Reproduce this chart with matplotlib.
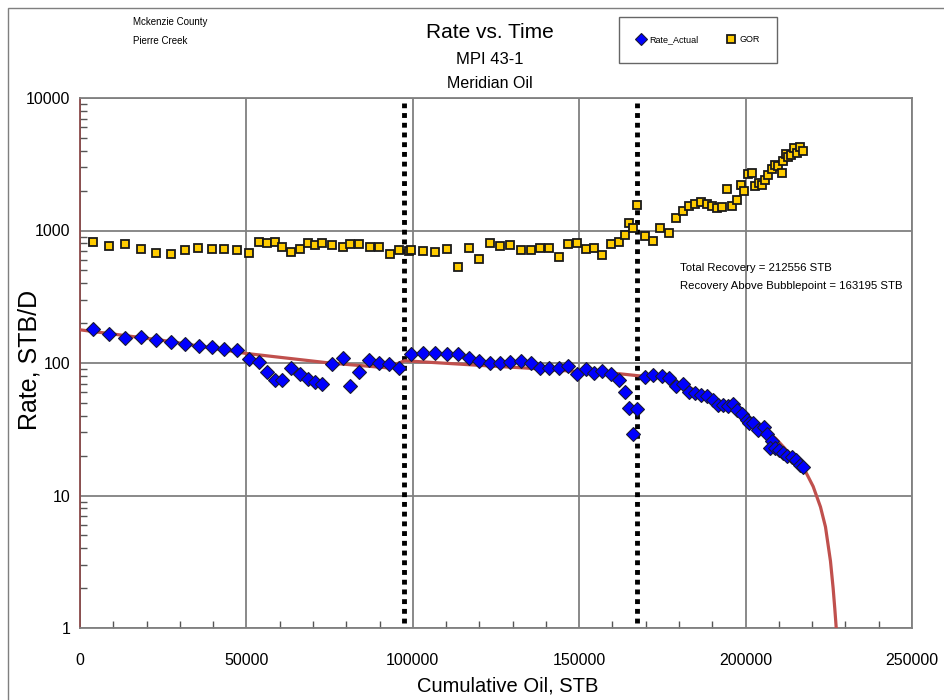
import matplotlib
matplotlib.use("Agg")
import matplotlib.pyplot as plt
from matplotlib.ticker import MultipleLocator, LogLocator, NullFormatter
from matplotlib.patches import Rectangle

plt.rcParams['font.family'] = ['Liberation Sans', 'DejaVu Sans']

# cumulative oil (STB) and oil rate (STB/D)
rate_cum = [3800, 8800, 13500, 18300, 22900, 27300, 31600, 35700, 39700, 43400,
            47300, 50800, 53700, 56300, 58600, 60700, 63500, 66000, 68500, 70700,
            72800, 75700, 79100, 81100, 83700, 86900, 89900, 92900, 95900, 99500,
            103000, 106600, 110200, 113600, 116900, 120000, 123100, 126100, 129300, 132500,
            135600, 138300, 141000, 143800, 146700, 149300, 152000, 154500, 157000, 159600,
            161900, 163900, 165000, 166100, 167500, 169900, 172300, 174900, 177100, 179000,
            181100, 183000, 184800, 186500, 188500, 190100, 191600, 193300, 194800, 196100,
            197500, 198900, 200300, 201100, 202300, 203700, 205500, 206500, 207800, 207300,
            208800, 210100, 211300, 212500, 213800, 215100, 216300, 217300]
rate_actual = [180, 165, 155, 156, 150, 145, 139, 134, 131, 128,
               125, 108, 102, 85, 74, 74, 91, 83, 76, 72,
               69, 98, 110, 67, 85, 105, 100, 98, 92, 117,
               120, 120, 116, 116, 109, 104, 99.5, 100, 101, 104,
               100, 92, 92, 92, 95, 82, 90, 84, 87, 82,
               74.5, 60, 46, 29, 45, 79, 81, 80, 77.5, 67,
               70, 60.5, 59, 57, 56, 53, 48, 48, 47, 49,
               44, 41, 37, 35, 35, 31, 33, 29, 26, 23,
               23, 22, 21, 20, 19.4, 18.5, 17, 16.3]

# cumulative oil (STB) and gas-oil ratio
gor_cum = [3800, 8800, 13500, 18300, 22900, 27200, 31600, 35500, 39700, 43400,
           47300, 50800, 53800, 56300, 58600, 60800, 63500, 66100, 68400, 70700,
           72800, 75700, 79100, 81100, 83700, 87100, 89900, 93200, 95900, 98900,
           99500, 103000, 106600, 110200, 113700, 116900, 120000, 123100, 126100, 129100,
           132400, 135500, 138300, 141000, 143900, 146700, 149300, 151900, 154500, 156900,
           159600, 161900, 163900, 165100, 166100, 167500, 169800, 172300, 174300, 177000,
           179100, 181100, 183100, 184800, 186600, 188300, 190000, 191300, 193000, 194500,
           195900, 197300, 198500, 199600, 200800, 202000, 202800, 203900, 205000, 205800,
           206800, 207800, 208800, 209800, 210800, 211300, 212000, 212800, 213600, 214500,
           215300, 216300, 217200]
gor = [824, 763, 791, 725, 672, 665, 713, 741, 725, 725,
       713, 672, 815, 805, 824, 755, 685, 725, 800, 778,
       805, 782, 747, 786, 786, 755, 755, 665, 716, 700,
       713, 697, 689, 729, 528, 738, 610, 809, 763, 778,
       716, 709, 741, 734, 628, 791, 809, 725, 741, 657,
       791, 824, 925, 1133, 1050, 1556, 914, 838, 1040, 953,
       1250, 1403, 1531, 1585, 1632, 1577, 1531, 1470, 1497, 2046,
       1531, 1698, 2205, 1996, 2670, 2730, 2168, 2270, 2205, 2406,
       2625, 2897, 3120, 3067, 2730, 3350, 3780, 3605, 3715, 4170,
       3830, 4245, 4000]

# fitted decline curve
fit_cum = [0, 25000, 50000, 75000, 92300, 97500, 120000, 136000, 150000, 162000,
           168000, 172000, 177000, 182000, 187000, 192000, 197000, 201000, 205000, 209000,
           213000, 217000, 220300, 222500, 224000, 225500, 226300, 226800, 227300]
fit_rate = [178, 148, 118, 100, 92, 104, 96, 91, 86, 83,
            80, 79, 75, 67, 59, 51, 43, 37, 32, 27,
            21, 17, 11.7, 8.2, 5.8, 3.2, 2.0, 1.4, 0.95]

bubble_cum = [97300, 167300]

fig = plt.figure(figsize=(9.44, 7.0), dpi=100)
fig.patches.append(Rectangle((8 / 944, -0.1), 1.2, 1 - 8 / 700 + 0.1, transform=fig.transFigure,
                             fill=False, edgecolor='#7f7f7f', linewidth=1.0))
ax = fig.add_axes([80 / 944, 1 - 628 / 700, 832 / 944, 530 / 700])

ax.set_xlim(0, 250000)
ax.set_yscale('log')
ax.set_ylim(1, 10000)

ax.grid(True, which='major', color='#808080', linewidth=1.3)
ax.set_axisbelow(True)

for xb in bubble_cum:
    ax.plot([xb, xb], [1.09, 9100], color='black', linewidth=3.5,
            linestyle=(0, (1, 1)), zorder=2)

ax.plot(fit_cum, fit_rate, color='#C0504D', linewidth=2.3, zorder=3)

ax.plot(gor_cum, gor, linestyle='none', marker='s', markersize=6,
        markerfacecolor='#FFCC00', markeredgecolor='#1a1a1a', markeredgewidth=1.3,
        label='GOR', zorder=4)
ax.plot(rate_cum, rate_actual, linestyle='none', marker='D', markersize=7,
        markerfacecolor='#0000FF', markeredgecolor='#1a1a33', markeredgewidth=0.8,
        label='Rate_Actual', zorder=5)

ax.xaxis.set_minor_locator(MultipleLocator(10000))
ax.yaxis.set_minor_locator(LogLocator(base=10, subs=range(2, 10), numticks=20))
ax.yaxis.set_minor_formatter(NullFormatter())
ax.set_yticks([1, 10, 100, 1000, 10000])
ax.set_yticklabels(['1', '10', '100', '1000', '10000'])
ax.set_xticks([0, 50000, 100000, 150000, 200000, 250000])
ax.set_xticklabels(['0', '50000', '100000', '150000', '200000', '250000'])

ax.tick_params(axis='both', which='major', direction='in', length=0, labelsize=11.5)
ax.tick_params(axis='x', which='major', pad=18)
ax.tick_params(axis='y', which='major', pad=7)
ax.tick_params(axis='both', which='minor', direction='in', length=5, width=1, color='#555555')
for s in ax.spines.values():
    s.set_color('#808080')
    s.set_linewidth(1.3)
ax.spines['left'].set_color('#8a4a4a')

fig.text(508 / 944, 1 - 686 / 700, 'Cumulative Oil, STB', ha='center', va='center', fontsize=14.5)
fig.text(30 / 944, 1 - 360 / 700, 'Rate, STB/D', ha='center', va='center', rotation=90, fontsize=18)

fig.text(490 / 944, 1 - 33 / 700, 'Rate vs. Time', ha='center', va='center', fontsize=15)
fig.text(490 / 944, 1 - 59 / 700, 'MPI 43-1', ha='center', va='center', fontsize=12)
fig.text(490 / 944, 1 - 84 / 700, 'Meridian Oil', ha='center', va='center', fontsize=11.5)
fig.text(133 / 944, 1 - 22 / 700, 'Mckenzie County', ha='left', va='center', fontsize=7)
fig.text(133 / 944, 1 - 41 / 700, 'Pierre Creek', ha='left', va='center', fontsize=7)

fig.text(680 / 944, 1 - 268 / 700, 'Total Recovery = 212556 STB', ha='left', va='center', fontsize=8.2)
fig.text(680 / 944, 1 - 286 / 700, 'Recovery Above Bubblepoint = 163195 STB', ha='left', va='center', fontsize=8.2)

handles, labels = ax.get_legend_handles_labels()
leg = fig.legend(handles[::-1], labels[::-1], loc='center', bbox_to_anchor=(698 / 944, 1 - 40 / 700),
                 ncol=2, fontsize=6.5, frameon=True, fancybox=False, edgecolor='#404040',
                 borderpad=2.0, borderaxespad=0, columnspacing=3.2, handletextpad=0.35,
                 handlelength=1.0, markerscale=0.85)
leg.get_frame().set_linewidth(1.0)

fig.savefig('out.png', dpi=100)
